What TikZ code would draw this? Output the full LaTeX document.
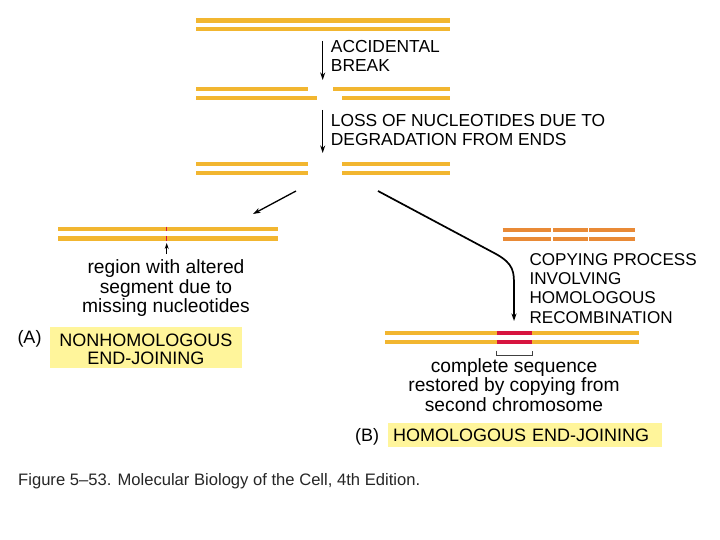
\documentclass[tikz,border=0pt]{standalone}
\usepackage{fontspec}
\setmainfont{Liberation Sans}
\usepackage{xcolor}
\usepackage{tikz}
\usetikzlibrary{arrows, arrows.meta, positioning, calc}
\definecolor{dnayellow}{HTML}{F2B630}
\definecolor{dnaorange}{HTML}{E98A36}
\definecolor{dnared}{HTML}{D7153F}
\definecolor{boxyellow}{HTML}{FFF59B}
\tikzstyle{strand} = [line width=4.7pt, draw=dnayellow]
\tikzstyle{copystrand} = [line width=4.7pt, draw=dnaorange]
\tikzstyle{caps} = [inner sep=0pt, align=left, font=\fontsize{17.4}{19.4}\selectfont]
\tikzstyle{lower} = [inner sep=0pt, align=center, font=\fontsize{19.2}{19.4}\selectfont]
\tikzstyle{result} = [rectangle, fill=boxyellow, inner sep=0pt, font=\fontsize{18}{17.4}\selectfont]
\tikzstyle{arrow} = [line width=1.1pt,->,>={Stealth[length=7.5pt, width=5pt]}]

\begin{document}
\begin{tikzpicture}[x=1pt, y=-1pt]
\useasboundingbox (0,0) rectangle (720,540);
% intact chromosome
\draw [strand] (196,20.5) -- (450,20.5);
\draw [strand] (196,29) -- (450,29);
% after the break
\draw [strand] (196,89) -- (307.7,89);
\draw [strand] (333.3,89) -- (450,89);
\draw [strand] (196,98) -- (317,98);
\draw [strand] (342.3,98) -- (450,98);
% after degradation
\draw [strand] (196,164) -- (307.7,164);
\draw [strand] (342.3,164) -- (450,164);
\draw [strand] (196,173) -- (307.7,173);
\draw [strand] (342.3,173) -- (450,173);
% (A) joined ends
\draw [strand] (58.3,229) -- (278.3,229);
\draw [strand] (58.3,238.5) -- (278.3,238.5);
\draw [dnared, line width=1.4pt] (166.7,226.65) -- (166.7,231.35);
\draw [dnared, line width=1.4pt] (166.7,236.15) -- (166.7,240.85);
% second chromosome
\draw [copystrand] (502.7,230) -- (635,230);
\draw [copystrand] (502.7,239) -- (635,239);
\foreach \gx in {551.7, 588.3}
  \draw [white, line width=1.6pt] (\gx,227) -- (\gx,242);
% (B) repaired chromosome
\draw [strand] (385,333) -- (639,333);
\draw [strand] (385,342) -- (639,342);
\draw [dnared, line width=4.7pt] (496.7,333) -- (532.3,333);
\draw [dnared, line width=4.7pt] (496.7,342) -- (532.3,342);
\draw [black!75, line width=0.9pt] (496.7,350.5) -- (496.7,355) -- (532.3,355) -- (532.3,350.5);

% labels (anchored at the baseline of the last line)
\node (brk) [caps, anchor=base west] at (330.7,71.8) {ACCIDENTAL\\BREAK};
\node (loss) [caps, anchor=base west] at (330.7,145.5) {LOSS OF NUCLEOTIDES DUE TO\\DEGRADATION FROM ENDS};
\node (alt) [lower, anchor=base] at (166,312.5) {region with altered\\segment due to\\missing nucleotides};
\node (copy) [caps, font=\fontsize{17.1}{19.4}\selectfont, anchor=base west] at (529.3,323.3) {COPYING PROCESS\\INVOLVING\\HOMOLOGOUS\\RECOMBINATION};
\node (restore) [lower, anchor=base] at (514,411) {complete sequence\\restored by copying from\\second chromosome};
% result boxes (anchored at the baseline of the first line)
\node (njoin) [result, align=center, text width=191.7pt, text height=20pt, text depth=21.6pt, anchor=base] at (145.85,346.7) {NONHOMOLOGOUS\\END-JOINING};
\node (hjoin) [result, align=left, text width=274pt, text height=18.3pt, text depth=5.3pt, anchor=base west] at (388,441.7) {\hspace*{5pt}HOMOLOGOUS END-JOINING};
\node (labA) [caps, font=\fontsize{18}{18}\selectfont, anchor=base west] at (17.3,343) {(A)};
\node (labB) [caps, font=\fontsize{18}{18}\selectfont, anchor=base west] at (355,441.7) {(B)};
\node (caption) [inner sep=0pt, anchor=base west, font=\fontsize{16.6}{18}\selectfont, text=black!85] at (18,485) {Figure 5–53. Molecular Biology of the Cell, 4th Edition.};

% arrows
\coordinate (brks) at (322.7,41);
\coordinate (brke) at (322.7,80);
\coordinate (losss) at (322.7,110);
\coordinate (losse) at (322.7,153);
\coordinate (njs) at (296,191);
\coordinate (nje) at (253,214);
\coordinate (hrs) at (378,191);
\coordinate (hre) at (514,321);
\coordinate (alts) at (166.7,254);
\coordinate (alte) at (166.7,243);
\draw [arrow] (brks) -- (brke);
\draw [arrow] (losss) -- (losse);
\draw [arrow, line width=1.3pt] (njs) -- (nje);
\draw [arrow, line width=1.7pt] (hrs) -- (496,254) .. controls (514,264) and (514,272) .. (514,286) -- (hre);
\draw [arrow, line width=0.9pt, >={Stealth[length=6pt, width=4pt]}] (alts) -- (alte);
\end{tikzpicture}
\end{document}
